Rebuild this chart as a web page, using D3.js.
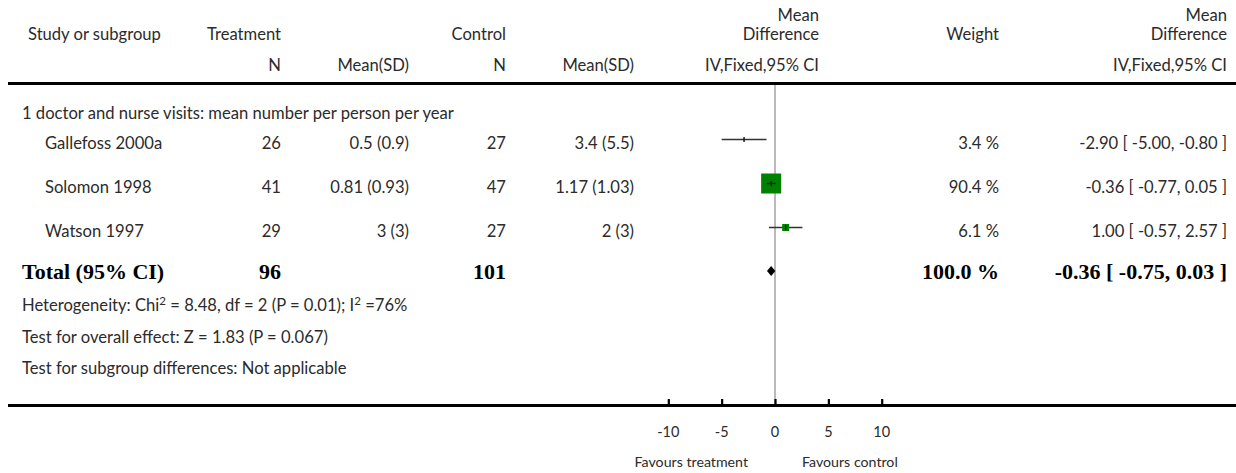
<!DOCTYPE html>
<html>
<head>
<meta charset="utf-8">
<script src="https://cdn.jsdelivr.net/npm/d3@7/dist/d3.min.js"></script>
<style>
  html, body { margin: 0; padding: 0; background: #fff; }
  svg { display: block; }
  text { font-family: Lato, "Open Sans", sans-serif; font-size: 16.6px; fill: #2b2b2b; }
  .bold { font-family: "Liberation Serif", "DejaVu Serif", serif; font-weight: bold; font-size: 22px; fill: #000; }
</style>
</head>
<body>
<svg id="chart" width="1236" height="473"></svg>
<script>
// Study-level data: doctor and nurse visits, mean number per person per year
const studies = ["Gallefoss 2000a", "Solomon 1998", "Watson 1997"];
const treatN = [26, 41, 29];
const treatMeanSD = ["0.5 (0.9)", "0.81 (0.93)", "3 (3)"];
const controlN = [27, 47, 27];
const controlMeanSD = ["3.4 (5.5)", "1.17 (1.03)", "2 (3)"];
const meanDiff = [-2.90, -0.36, 1.00];
const ciLow = [-5.00, -0.77, -0.57];
const ciHigh = [-0.80, 0.05, 2.57];
const weights = [3.4, 90.4, 6.1];

// Pooled estimate
const totalTreatN = 96;
const totalControlN = 101;
const totalMD = -0.36;
const totalLow = -0.75;
const totalHigh = 0.03;
const totalWeight = 100.0;

const subgroupTitle = "1 doctor and nurse visits: mean number per person per year";
// Footnote pieces; "^" marks a superscript run
const footNotes = [
  ["Heterogeneity: Chi", "^2", " = 8.48, df = 2 (P = 0.01); I", "^2", " =76%"],
  ["Test for overall effect: Z = 1.83 (P = 0.067)"],
  ["Test for subgroup differences: Not applicable"]
];
const axisTicks = [-10, -5, 0, 5, 10];

const svg = d3.select("#chart");

const x = d3.scaleLinear().domain([-10, 10]).range([668.3, 881.7]);
// Box side length by study weight
const boxSize = d3.scaleLinear().domain([0, 3.4, 6.1, 90.4]).range([0, 2, 7, 20]);

const rowY = d3.scalePoint().domain(studies).range([139.5, 227.5]);

const col = { study: 45, left: 22, tN: 281, tM: 409, cN: 506, cM: 634, md: 819, w: 999, ci: 1227 };

// plain hyphen for negative numbers
const hy = s => String(s).replace(/\u2212/g, "-");

function txt(xp, yp, s, anchor, cls) {
  const t = svg.append("text").attr("x", xp).attr("y", yp).attr("text-anchor", anchor || "start").text(hy(s));
  if (cls) t.attr("class", cls);
  return t;
}
const fmt2 = d3.format(".2f");
const ciLabel = (m, l, h) => hy(`${fmt2(m)} [ ${fmt2(l)}, ${fmt2(h)} ]`);

// Header
txt(28, 40, "Study or subgroup");
txt(col.tN, 40, "Treatment", "end");
txt(col.cN, 40, "Control", "end");
txt(col.md, 21, "Mean", "end");
txt(col.md, 40, "Difference", "end");
txt(col.w, 40, "Weight", "end");
txt(col.ci, 21, "Mean", "end");
txt(col.ci, 40, "Difference", "end");
txt(col.tN, 71, "N", "end");
txt(col.tM, 71, "Mean(SD)", "end");
txt(col.cN, 71, "N", "end");
txt(col.cM, 71, "Mean(SD)", "end");
txt(col.md, 71, "IV,Fixed,95% CI", "end");
txt(col.ci, 71, "IV,Fixed,95% CI", "end");

svg.append("line").attr("x1", 8).attr("x2", 1236).attr("y1", 83.5).attr("y2", 83.5)
  .attr("stroke", "#000").attr("stroke-width", 3);

// Line of no effect
svg.append("line").attr("x1", x(0)).attr("x2", x(0)).attr("y1", 85).attr("y2", 404)
  .attr("stroke", "#b3b3b3").attr("stroke-width", 1.8);

txt(col.left, 119, subgroupTitle);

// Study rows
studies.forEach((s, i) => {
  const y = rowY(s);
  const ty = y + 9.5;
  txt(col.study, ty, s);
  txt(col.tN, ty, treatN[i], "end");
  txt(col.tM, ty, treatMeanSD[i], "end");
  txt(col.cN, ty, controlN[i], "end");
  txt(col.cM, ty, controlMeanSD[i], "end");
  txt(col.w, ty, weights[i].toFixed(1) + " %", "end");
  txt(col.ci, ty, ciLabel(meanDiff[i], ciLow[i], ciHigh[i]), "end");

  svg.append("line").attr("x1", x(ciLow[i])).attr("x2", x(ciHigh[i]))
    .attr("y1", y).attr("y2", y).attr("stroke", "#333").attr("stroke-width", 1.7);
  const b = boxSize(weights[i]);
  svg.append("rect").attr("x", x(meanDiff[i]) - b / 2).attr("y", y - b / 2)
    .attr("width", b).attr("height", b).attr("fill", "#008000");
  // centre marks
  svg.append("line").attr("x1", x(meanDiff[i])).attr("x2", x(meanDiff[i]))
    .attr("y1", y - 2.5).attr("y2", y + 2.5).attr("stroke", "#111").attr("stroke-width", 1.3);
  if (b > 10) {
    svg.append("line").attr("x1", x(meanDiff[i]) - 4.5).attr("x2", x(meanDiff[i]) + 4.5)
      .attr("y1", y).attr("y2", y).attr("stroke", "#111").attr("stroke-width", 1.3);
  }
});

// Total row
const totY = 271;
txt(col.left, totY + 8, "Total (95% CI)", "start", "bold");
txt(col.tN, totY + 8, totalTreatN, "end", "bold");
txt(col.cN, totY + 8, totalControlN, "end", "bold");
txt(col.w, totY + 8, totalWeight.toFixed(1) + " %", "end", "bold");
txt(col.ci, totY + 8, ciLabel(totalMD, totalLow, totalHigh), "end", "bold");

svg.append("path")
  .attr("d", `M${x(totalLow)},${totY} L${x(totalMD)},${totY - 5} L${x(totalHigh)},${totY} L${x(totalMD)},${totY + 5} Z`)
  .attr("fill", "#000");

footNotes.forEach((parts, i) => {
  const t = svg.append("text").attr("x", col.left).attr("y", 311 + i * 31.5);
  parts.forEach(p => {
    if (p.startsWith("^")) {
      t.append("tspan").attr("dy", -6).style("font-size", "11.5px").text(p.slice(1));
    } else {
      const prevSup = t.selectAll("tspan").size() && t.select("tspan:last-child").attr("dy") === "-6";
      t.append("tspan").attr("dy", prevSup ? 6 : 0).text(p);
    }
  });
});

// Bottom axis
svg.append("line").attr("x1", 8).attr("x2", 1236).attr("y1", 405.5).attr("y2", 405.5)
  .attr("stroke", "#000").attr("stroke-width", 3);

const axisG = svg.append("g").attr("transform", "translate(0,405)");
const axis = d3.axisTop(x).tickValues(axisTicks).tickSize(6).tickFormat(d3.format("d"));
axisG.call(axis);
axisG.select(".domain").remove();
axisG.selectAll(".tick line").attr("stroke", "#000").attr("stroke-width", 2.2);
axisG.selectAll(".tick text").remove();

axisTicks.forEach(t => txt(x(t), 437, t, "middle").style("font-size", "14.5px"));

txt(748, 467, "Favours treatment", "end").style("font-size", "14.2px");
txt(802, 467, "Favours control", "start").style("font-size", "14.2px");
</script>
</body>
</html>
